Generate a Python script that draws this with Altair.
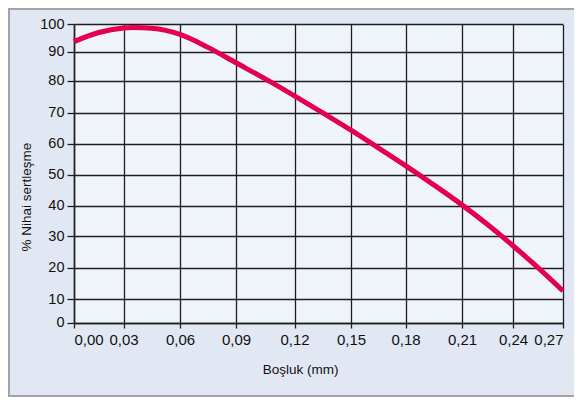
import altair as alt
import pandas as pd

# Data
gap_mm = [0.0, 0.015, 0.03, 0.035, 0.045, 0.06, 0.075, 0.09, 0.105, 0.12, 0.135,
          0.15, 0.165, 0.18, 0.195, 0.21, 0.225, 0.24, 0.255, 0.27]
cure_pct = [93.6, 96.9, 98.55, 98.75, 98.45, 96.2, 91.5, 86.1, 80.55, 75.2, 69.9,
            64.3, 58.6, 52.85, 46.65, 40.2, 33.75, 26.9, 19.95, 12.55]

x_ticks = [0.0, 0.03, 0.06, 0.09, 0.12, 0.15, 0.18, 0.21, 0.24, 0.27]
y_ticks = [0, 10, 20, 30, 40, 50, 60, 70, 80, 90, 100]

df = pd.DataFrame({"gap": gap_mm, "cure": cure_pct})

W, H = 489, 299
font = "Liberation Sans"

# the printed grid is not evenly spaced, so piecewise-linear scales follow it
x_scale = alt.Scale(domain=x_ticks,
                    range=[0, 49.5, 106, 162, 220.5, 277, 331.5, 388, 439, 489])
y_scale = alt.Scale(domain=y_ticks,
                    range=[298.5, 275, 243.5, 212, 181.5, 150.5, 119.5, 88.5, 56.5, 27.5, 0])

line = alt.Chart(df).mark_line(
    color="#e2004f", strokeWidth=5, interpolate="monotone", clip=False
).encode(
    x=alt.X("gap:Q", scale=x_scale,
            axis=alt.Axis(values=x_ticks, title="Boşluk (mm)",
                          labelExpr="replace(format(datum.value, '.2f'), '.', ',')",
                          labelFontSize=15, labelPadding=4, tickSize=5,
                          titleX=226, titleY=50.5, titleBaseline="alphabetic",
                          titleAlign="center", titleFontSize=13.5,
                          titleFontWeight="normal")),
    y=alt.Y("cure:Q", scale=y_scale,
            axis=alt.Axis(values=y_ticks, title="% Nihai sertleşme",
                          labelFontSize=14.5, labelPadding=3, tickSize=7,
                          titleX=-48, titleY=172.7, titleAngle=270,
                          titleBaseline="middle", titleAlign="center",
                          titleFontSize=13.5, titleFontWeight="normal")),
)

frame = alt.Chart(alt.Data(values=[{}])).mark_rect(
    fill=None, stroke="#a3a3a3", strokeWidth=2, clip=False
).encode(
    x=alt.value(-65), x2=alt.value(520),
    y=alt.value(-15), y2=alt.value(372),
)

chart = alt.layer(frame, line).properties(
    width=W, height=H,
    padding={"left": 66, "top": 16, "right": 11, "bottom": 74},
    autosize="none",
    background="#e2e8f3",
).configure_view(
    fill="#eff3fa", stroke=None
).configure_axis(
    grid=True, gridColor="#1e1e1e", gridWidth=1.3, gridOpacity=1,
    domainColor="#1e1e1e", domainWidth=1.5, tickColor="#1e1e1e", tickWidth=1.3,
    labelFont=font, titleFont=font, labelColor="#111111", titleColor="#111111",
)

chart.save("out.html", embed_options={"renderer": "svg", "actions": False})
